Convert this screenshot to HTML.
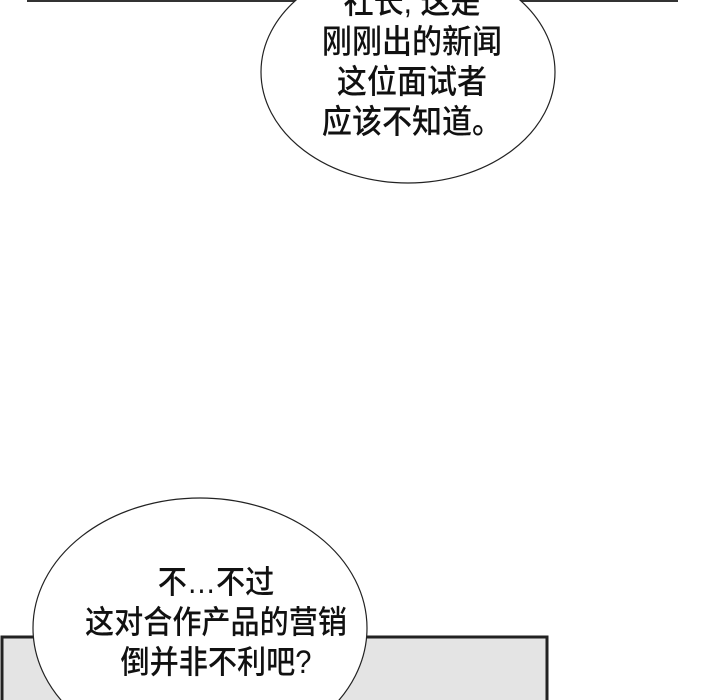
<!DOCTYPE html>
<html><head><meta charset="utf-8"><style>
html,body{margin:0;padding:0;background:#fff;}
.wrap{position:relative;width:720px;height:700px;overflow:hidden;background:#fff;}
.t{position:absolute;font-family:"Liberation Sans","Noto Sans CJK SC",sans-serif;font-weight:500;color:#111;text-align:center;white-space:nowrap;transform:translateX(-50%) scaleX(0.91);}
</style></head><body><div class="wrap">
<svg width="720" height="700" style="position:absolute;left:0;top:0">
<line x1="27" y1="1" x2="678" y2="1" stroke="#333" stroke-width="2"/>
<ellipse cx="408" cy="72" rx="147" ry="111" fill="#fff" stroke="#222" stroke-width="1.2"/>
<rect x="2" y="637" width="545" height="70" fill="#e4e4e4" stroke="#222" stroke-width="3"/>
<ellipse cx="200" cy="628" rx="167" ry="130" fill="#fff" stroke="#222" stroke-width="1.2"/>
</svg>
<div class="t" style="left:412px;top:-18px;font-size:33px;line-height:40px">社长, 这是<br>刚刚出的新闻<br>这位面试者<br>应该不知道。</div>
<div class="t" style="left:216px;top:562px;font-size:32px;line-height:40px">不…不过<br>这对合作产品的营销<br>倒并非不利吧?</div>
</div></body></html>
